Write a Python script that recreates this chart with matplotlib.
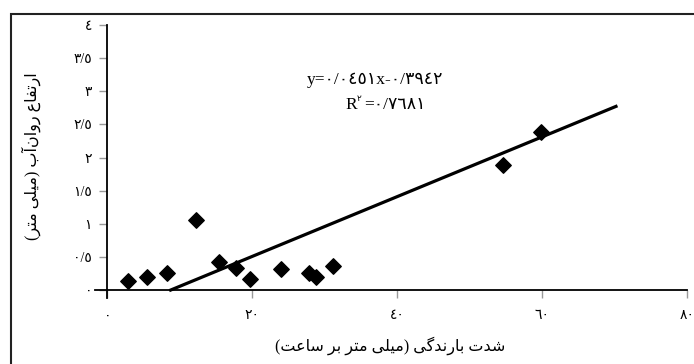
import matplotlib
matplotlib.use('Agg')
import matplotlib.pyplot as plt
from matplotlib.patches import Rectangle

# rainfall intensity (mm/h) and runoff depth (mm)
rain = [2.9, 5.5, 8.3, 12.3, 15.4, 17.7, 19.7, 23.9, 27.9, 28.8, 31.1, 54.6, 59.9]
runoff = [0.13, 0.19, 0.25, 1.05, 0.43, 0.34, 0.16, 0.32, 0.26, 0.19, 0.37, 1.89, 2.39]

slope = 0.0451
intercept = -0.3942
line_x = [8.74, 70.2]

x_ticks = [0, 20, 40, 60, 80]
y_ticks = [0, 0.5, 1, 1.5, 2, 2.5, 3, 3.5, 4]

xlabel = 'شدت بارندگی (میلی متر بر ساعت)'
ylabel = 'ارتفاع روان\u200cآب (میلی متر)'

# --- tiny arabic shaper (no reshaper lib available) ---
# isolated, final, initial, medial
FORMS = {
    'ا': ('\uFE8D', '\uFE8E', None, None),
    'آ': ('\uFE81', '\uFE82', None, None),
    'ب': ('\uFE8F', '\uFE90', '\uFE91', '\uFE92'),
    'ت': ('\uFE95', '\uFE96', '\uFE97', '\uFE98'),
    'د': ('\uFEA9', '\uFEAA', None, None),
    'ر': ('\uFEAD', '\uFEAE', None, None),
    'س': ('\uFEB1', '\uFEB2', '\uFEB3', '\uFEB4'),
    'ش': ('\uFEB5', '\uFEB6', '\uFEB7', '\uFEB8'),
    'ع': ('\uFEC9', '\uFECA', '\uFECB', '\uFECC'),
    'ف': ('\uFED1', '\uFED2', '\uFED3', '\uFED4'),
    'ل': ('\uFEDD', '\uFEDE', '\uFEDF', '\uFEE0'),
    'م': ('\uFEE1', '\uFEE2', '\uFEE3', '\uFEE4'),
    'ن': ('\uFEE5', '\uFEE6', '\uFEE7', '\uFEE8'),
    'و': ('\uFEED', '\uFEEE', None, None),
    'ی': ('\uFBFC', '\uFBFD', '\uFBFE', '\uFBFF'),
    'گ': ('\uFB92', '\uFB93', '\uFB94', '\uFB95'),
}


def shape(text):
    out = []
    n = len(text)
    for i, ch in enumerate(text):
        if ch not in FORMS:
            if ch != '\u200c':
                out.append(ch)
            continue
        prev = text[i - 1] if i > 0 else ''
        nxt = text[i + 1] if i < n - 1 else ''
        join_prev = prev in FORMS and FORMS[prev][2] is not None
        join_next = nxt in FORMS and FORMS[ch][2] is not None
        iso, fin, ini, med = FORMS[ch]
        if join_prev and join_next:
            out.append(med)
        elif join_prev:
            out.append(fin)
        elif join_next:
            out.append(ini)
        else:
            out.append(iso)
    mirror = {'(': ')', ')': '('}
    return ''.join(mirror.get(c, c) for c in reversed(out))


AR_DIGITS = str.maketrans('0123456789.', '٠١٢٣٤٥٦٧٨٩/')


def fa_num(v):
    s = ('%g' % v)
    return s.translate(AR_DIGITS)


fonts = ['Liberation Serif', 'DejaVu Sans']

fig = plt.figure(figsize=(6.94, 3.64), dpi=100)
ax = fig.add_axes([0.1369, 0.1813, 0.853, 0.75])

ax.scatter(rain, runoff, marker='D', s=62, color='black', zorder=3)
ax.plot(line_x, [slope * x + intercept for x in line_x], color='black', lw=2.3)

ax.set_xlim(-1.7, 80)
ax.set_ylim(-0.12, 4)
for side in ['top', 'right']:
    ax.spines[side].set_visible(False)
ax.spines['left'].set_position(('data', 0))
ax.spines['bottom'].set_position(('data', 0))
ax.spines['left'].set_linewidth(1.3)
ax.spines['bottom'].set_linewidth(1.3)

ax.set_xticks(x_ticks)
ax.set_xticklabels([fa_num(v) for v in x_ticks], family=fonts, fontsize=10)
ax.set_yticks(y_ticks)
ax.set_yticklabels([fa_num(v) for v in y_ticks], family=fonts, fontsize=10)
ax.tick_params(axis='both', direction='out', length=6, width=1, color='#999999', pad=5)
ax.tick_params(axis='x', pad=8)

fig.text(0.562, 0.025, shape(xlabel), family=fonts, fontsize=11.5, ha='center', va='bottom')
fig.text(0.045, 0.57, shape(ylabel), family=fonts, fontsize=11.5, ha='center', va='center',
         rotation=90)

ax.text(37.0, 3.17, 'y=' + '٠/٠٤٥١' + 'x-' + '٠/٣٩٤٢', family=fonts, fontsize=12.5,
        ha='center', va='center')
ax.text(34.4, 2.79, 'R', family=fonts, fontsize=12.5, ha='right', va='center')
ax.text(34.4, 2.89, '٢', family=fonts, fontsize=6.5, ha='left', va='center')
ax.text(35.4, 2.79, '=٠/٧٦٨١', family=fonts, fontsize=12.5, ha='left', va='center')

# outer frame (only top and left edges visible in the crop)
fig.patches.append(Rectangle((11 / 694, -0.05), 1.05, 0.05 + (364 - 14) / 364,
                             transform=fig.transFigure, fill=False,
                             edgecolor='#222222', lw=1.5))

fig.savefig('out.png', dpi=100)
